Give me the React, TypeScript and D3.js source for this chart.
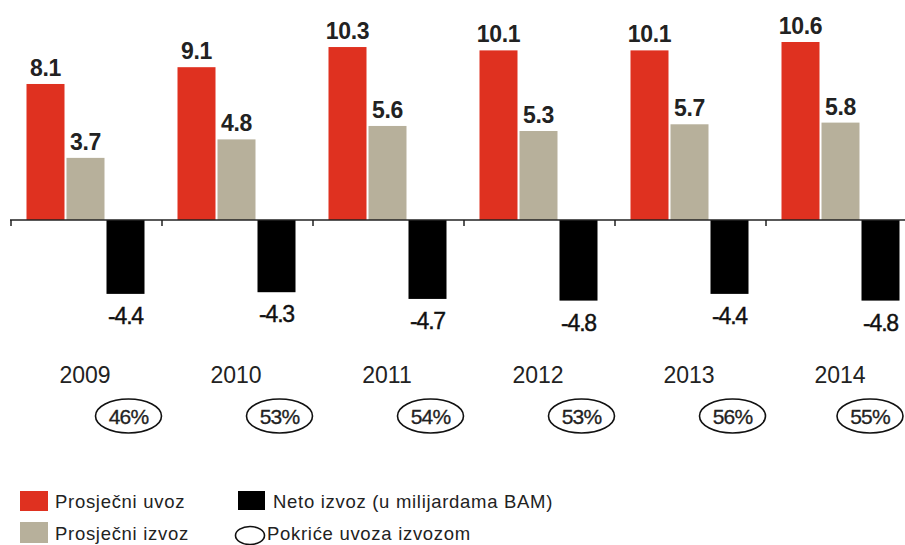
import React from 'react';
import * as d3 from 'd3';

const years = ['2009', '2010', '2011', '2012', '2013', '2014'];
const avgImport = [8.1, 9.1, 10.3, 10.1, 10.1, 10.6];
const avgExport = [3.7, 4.8, 5.6, 5.3, 5.7, 5.8];
const netExport = [-4.4, -4.3, -4.7, -4.8, -4.4, -4.8];
const coverage = [46, 53, 54, 53, 56, 55];

const seriesNames = ['Prosječni uvoz', 'Prosječni izvoz', 'Neto izvoz (u milijardama BAM)'];
const colors = ['#df3120', '#b7b09b', '#000000'];

const W = 905;
const H = 545;
const baseY = 220;

const App = () => {
  // one band per year, three bars inside each band
  const x = d3.scaleBand<string>().domain(years).range([10, 10 + 151 * years.length]).padding(0);
  const inner = d3
    .scaleBand<number>()
    .domain([0, 1, 2])
    .range([16.5, 134.5])
    .paddingInner(0.05);
  const y = d3.scaleLinear().domain([0, 10.6]).range([baseY, 42]);

  const rows = years.map((yr, i) => ({
    year: yr,
    vals: [avgImport[i], avgExport[i], netExport[i]],
    cover: coverage[i],
  }));

  const font = 'Liberation Sans, Arial, sans-serif';
  const rx = 33;
  const ry = 17;

  return (
    <div style={{ position: 'absolute', left: 0, top: 0 }}>
      <svg width={W} height={H} style={{ display: 'block', background: '#fff' }} fontFamily={font}>
        {rows.map(r => {
          const x0 = x(r.year) as number;
          const blackCx = x0 + (inner(2) as number) + inner.bandwidth() / 2;
          // last ellipse is pushed left to stay inside the picture
          const ecx = Math.min(blackCx + 3, W - rx - 2);
          return (
            <g key={r.year}>
              {r.vals.map((v, k) => {
                const bx = x0 + (inner(k) as number);
                const top = v >= 0 ? y(v) : y(0);
                const h = Math.abs(y(v) - y(0));
                return (
                  <g key={k}>
                    <rect x={bx} y={top} width={inner.bandwidth()} height={h} fill={colors[k]} />
                    {v >= 0 ? (
                      <text
                        x={bx + inner.bandwidth() / 2}
                        y={y(v) - 8}
                        textAnchor="middle"
                        fontSize={23}
                        fontWeight="bold"
                        fill="#222"
                        letterSpacing={-0.3}
                      >
                        {v.toFixed(1)}
                      </text>
                    ) : (
                      <text
                        x={bx + inner.bandwidth() / 2}
                        y={y(v) + 30}
                        textAnchor="middle"
                        fontSize={23}
                        fill="#111"
                        stroke="#111"
                        strokeWidth={0.4}
                        letterSpacing={-1.2}
                      >
                        {v.toFixed(1)}
                      </text>
                    )}
                  </g>
                );
              })}
              <text x={x0 + 75} y={383} textAnchor="middle" fontSize={23} fill="#222">
                {r.year}
              </text>
              <ellipse cx={ecx} cy={416} rx={rx} ry={ry} fill="none" stroke="#111" strokeWidth={1.6} />
              <text
                x={ecx}
                y={424}
                textAnchor="middle"
                fontSize={21}
                fill="#222"
                stroke="#222"
                strokeWidth={0.3}
                letterSpacing={-0.8}
              >
                {r.cover}%
              </text>
            </g>
          );
        })}

        {/* axis */}
        <line x1={10} x2={W} y1={baseY} y2={baseY} stroke="#222" strokeWidth={1.5} />
        {years.map(yr => (
          <line
            key={'t' + yr}
            x1={(x(yr) as number) + 1}
            x2={(x(yr) as number) + 1}
            y1={baseY}
            y2={baseY + 6}
            stroke="#222"
            strokeWidth={1.5}
          />
        ))}

        {/* legend */}
        <g fontSize={18.5} fill="#222" letterSpacing={0.7}>
          <rect x={20} y={491} width={28} height={20} fill={colors[0]} />
          <text x={55} y={508}>{seriesNames[0]}</text>
          <rect x={20} y={522} width={28} height={21} fill={colors[1]} />
          <text x={55} y={540}>{seriesNames[1]}</text>
          <rect x={238} y={491} width={27} height={19} fill={colors[2]} />
          <text x={273} y={508}>{seriesNames[2]}</text>
          <ellipse cx={250} cy={535.5} rx={14.5} ry={9} fill="none" stroke="#111" strokeWidth={1.6} />
          <text x={267} y={540}>Pokriće uvoza izvozom</text>
        </g>
      </svg>
    </div>
  );
};

export default App;
